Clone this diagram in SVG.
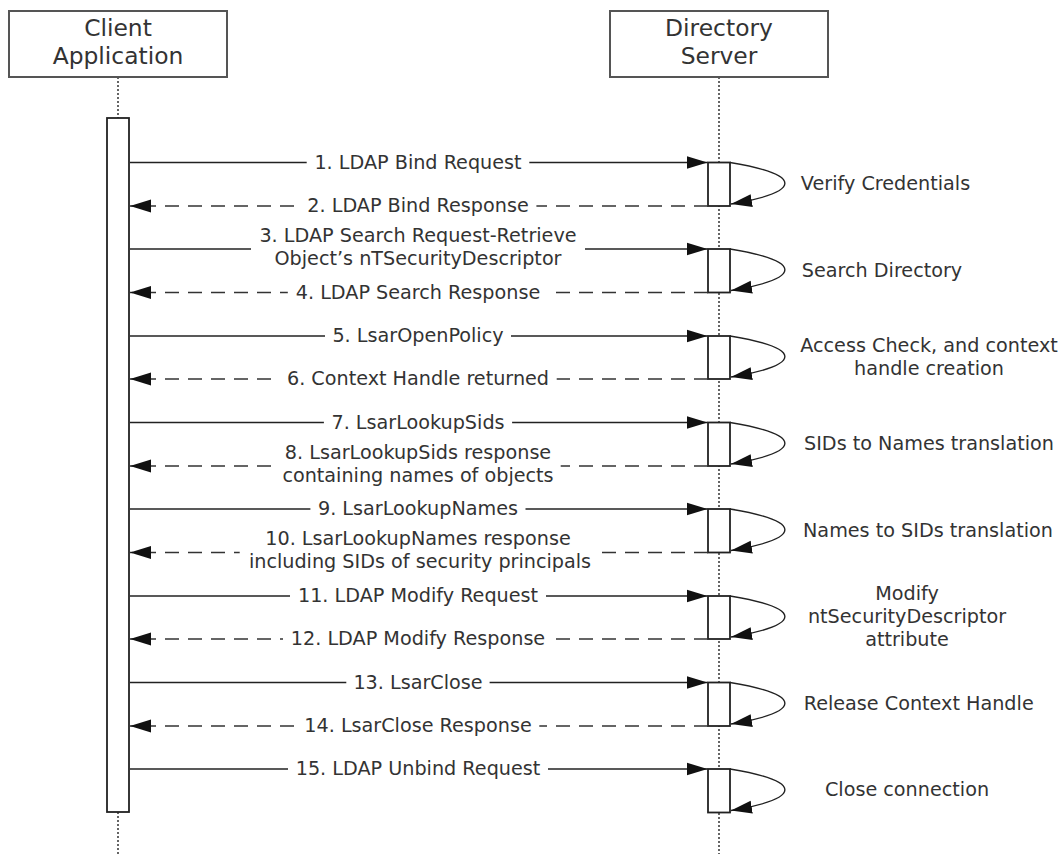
<svg xmlns="http://www.w3.org/2000/svg" width="1060" height="854" viewBox="0 0 1060 854">
<style>
.hdr{fill:#fff;stroke:#555;stroke-width:2}
.ht{font-family:"DejaVu Sans",Verdana,sans-serif;font-size:23.4px;fill:#333;text-anchor:middle}
.lbl{font-family:"DejaVu Sans",Verdana,sans-serif;font-size:19.2px;fill:#333;text-anchor:middle}
.life{stroke:#333;stroke-width:1.5;stroke-dasharray:2 2;fill:none}
.act{fill:#fff;stroke:#222;stroke-width:1.8}
.req{stroke:#222;stroke-width:1.5;fill:none;marker-end:url(#ah)}
.resp{stroke:#333;stroke-width:1.6;fill:none;stroke-dasharray:14 9;marker-end:url(#ah)}
.loop{stroke:#222;stroke-width:1.4;fill:none;marker-end:url(#ah)}
.bg{fill:#fff}
</style>
<defs>
<marker id="ah" markerUnits="userSpaceOnUse" markerWidth="22" markerHeight="14" refX="21" refY="7" orient="auto" viewBox="0 0 22 14">
<path d="M0,0.5 L21,7 L0,13.5 z" fill="#111"/>
</marker>
</defs>
<rect width="1060" height="854" fill="#fff"/>

<g id="lifelines">
<line class="life" x1="118" y1="77" x2="118" y2="118"/>
<line class="life" x1="118" y1="812" x2="118" y2="854"/>
<line class="life" x1="719" y1="77" x2="719" y2="854"/>
</g>

<g id="client">
<rect class="hdr" x="9" y="11" width="218" height="66"/>
<text class="ht" x="118" y="36">Client</text>
<text class="ht" x="118" y="63.5">Application</text>
</g>

<g id="server">
<rect class="hdr" x="610" y="11" width="218" height="66"/>
<text class="ht" x="719" y="36">Directory</text>
<text class="ht" x="719" y="63.5">Server</text>
</g>

<g id="client-activation">
<rect class="act" x="107" y="118" width="22" height="694"/>
</g>

<g id="server-activations">
<rect class="act" x="708" y="162.5" width="22" height="43.5"/>
<rect class="act" x="708" y="249" width="22" height="43.5"/>
<rect class="act" x="708" y="336" width="22" height="43"/>
<rect class="act" x="708" y="422.5" width="22" height="43.5"/>
<rect class="act" x="708" y="509" width="22" height="43.5"/>
<rect class="act" x="708" y="596" width="22" height="43"/>
<rect class="act" x="708" y="682.5" width="22" height="43.5"/>
<rect class="act" x="708" y="769" width="22" height="43.5"/>
</g>

<g id="connectors">
<line class="req" x1="130" y1="162.5" x2="707.5" y2="162.5"/>
<line class="resp" x1="708" y1="206" x2="130" y2="206"/>
<line class="req" x1="130" y1="249" x2="707.5" y2="249"/>
<line class="resp" x1="708" y1="292.5" x2="130" y2="292.5"/>
<line class="req" x1="130" y1="336" x2="707.5" y2="336"/>
<line class="resp" x1="708" y1="379" x2="130" y2="379"/>
<line class="req" x1="130" y1="422.5" x2="707.5" y2="422.5"/>
<line class="resp" x1="708" y1="466" x2="130" y2="466"/>
<line class="req" x1="130" y1="509" x2="707.5" y2="509"/>
<line class="resp" x1="708" y1="552.5" x2="130" y2="552.5"/>
<line class="req" x1="130" y1="596" x2="707.5" y2="596"/>
<line class="resp" x1="708" y1="639" x2="130" y2="639"/>
<line class="req" x1="130" y1="682.5" x2="707.5" y2="682.5"/>
<line class="resp" x1="708" y1="726" x2="130" y2="726"/>
<line class="req" x1="130" y1="769" x2="707.5" y2="769"/>

<path class="loop" d="M730,162.5 C803,174.5 803,192 731,204"/>
<path class="loop" d="M730,249 C803,261 803,278.5 731,290.5"/>
<path class="loop" d="M730,336 C803,348 803,365 731,377"/>
<path class="loop" d="M730,422.5 C803,434.5 803,452 731,464"/>
<path class="loop" d="M730,509 C803,521 803,538.5 731,550.5"/>
<path class="loop" d="M730,596 C803,608 803,625 731,637"/>
<path class="loop" d="M730,682.5 C803,694.5 803,712 731,724"/>
<path class="loop" d="M730,769 C803,781 803,798.5 731,810.5"/>
</g>

<g id="message-labels">
<rect class="bg" x="306.7" y="152.5" width="222.6" height="20"/>
<text class="lbl" x="418" y="168.5">1. LDAP Bind Request</text>
<rect class="bg" x="299.6" y="196" width="236.8" height="20"/>
<text class="lbl" x="418" y="212">2. LDAP Bind Response</text>
<rect class="bg" x="251" y="227" width="334" height="43"/>
<text class="lbl" x="418" y="242">3. LDAP Search Request-Retrieve</text>
<text class="lbl" x="418" y="265">Object’s nTSecurityDescriptor</text>
<rect class="bg" x="287.8" y="282.5" width="260.3" height="20"/>
<text class="lbl" x="418" y="298.5">4. LDAP Search Response</text>
<rect class="bg" x="325" y="326" width="186" height="20"/>
<text class="lbl" x="418" y="342">5. LsarOpenPolicy</text>
<rect class="bg" x="279.3" y="369" width="277.4" height="20"/>
<text class="lbl" x="418" y="385">6. Context Handle returned</text>
<rect class="bg" x="323.9" y="412.5" width="188.2" height="20"/>
<text class="lbl" x="418" y="428.5">7. LsarLookupSids</text>
<rect class="bg" x="275.3" y="444" width="285.4" height="43"/>
<text class="lbl" x="418" y="458.5">8. LsarLookupSids response</text>
<text class="lbl" x="418" y="481.5">containing names of objects</text>
<rect class="bg" x="310.4" y="499" width="215.1" height="20"/>
<text class="lbl" x="418" y="515">9. LsarLookupNames</text>
<rect class="bg" x="239.7" y="530.5" width="356.5" height="43"/>
<text class="lbl" x="418" y="545">10. LsarLookupNames response</text>
<text class="lbl" x="420" y="568">including SIDs of security principals</text>
<rect class="bg" x="290" y="586" width="256" height="20"/>
<text class="lbl" x="418" y="602">11. LDAP Modify Request</text>
<rect class="bg" x="283" y="629" width="270" height="20"/>
<text class="lbl" x="418" y="645">12. LDAP Modify Response</text>
<rect class="bg" x="346.3" y="672.5" width="143.3" height="20"/>
<text class="lbl" x="418" y="688.5">13. LsarClose</text>
<rect class="bg" x="296.7" y="716" width="242.6" height="20"/>
<text class="lbl" x="418" y="732">14. LsarClose Response</text>
<rect class="bg" x="288" y="759" width="260" height="20"/>
<text class="lbl" x="418" y="775">15. LDAP Unbind Request</text>
</g>

<g id="server-actions">
<text class="lbl" x="885.5" y="190">Verify Credentials</text>
<text class="lbl" x="882" y="277">Search Directory</text>
<text class="lbl" x="929" y="351.5">Access Check, and context</text>
<text class="lbl" x="929" y="374.5">handle creation</text>
<text class="lbl" x="929" y="450">SIDs to Names translation</text>
<text class="lbl" x="928" y="537">Names to SIDs translation</text>
<text class="lbl" x="907" y="599.5">Modify</text>
<text class="lbl" x="907" y="622.5">ntSecurityDescriptor</text>
<text class="lbl" x="907" y="645.5">attribute</text>
<text class="lbl" x="918.7" y="710">Release Context Handle</text>
<text class="lbl" x="907" y="796">Close connection</text>
</g>
</svg>
